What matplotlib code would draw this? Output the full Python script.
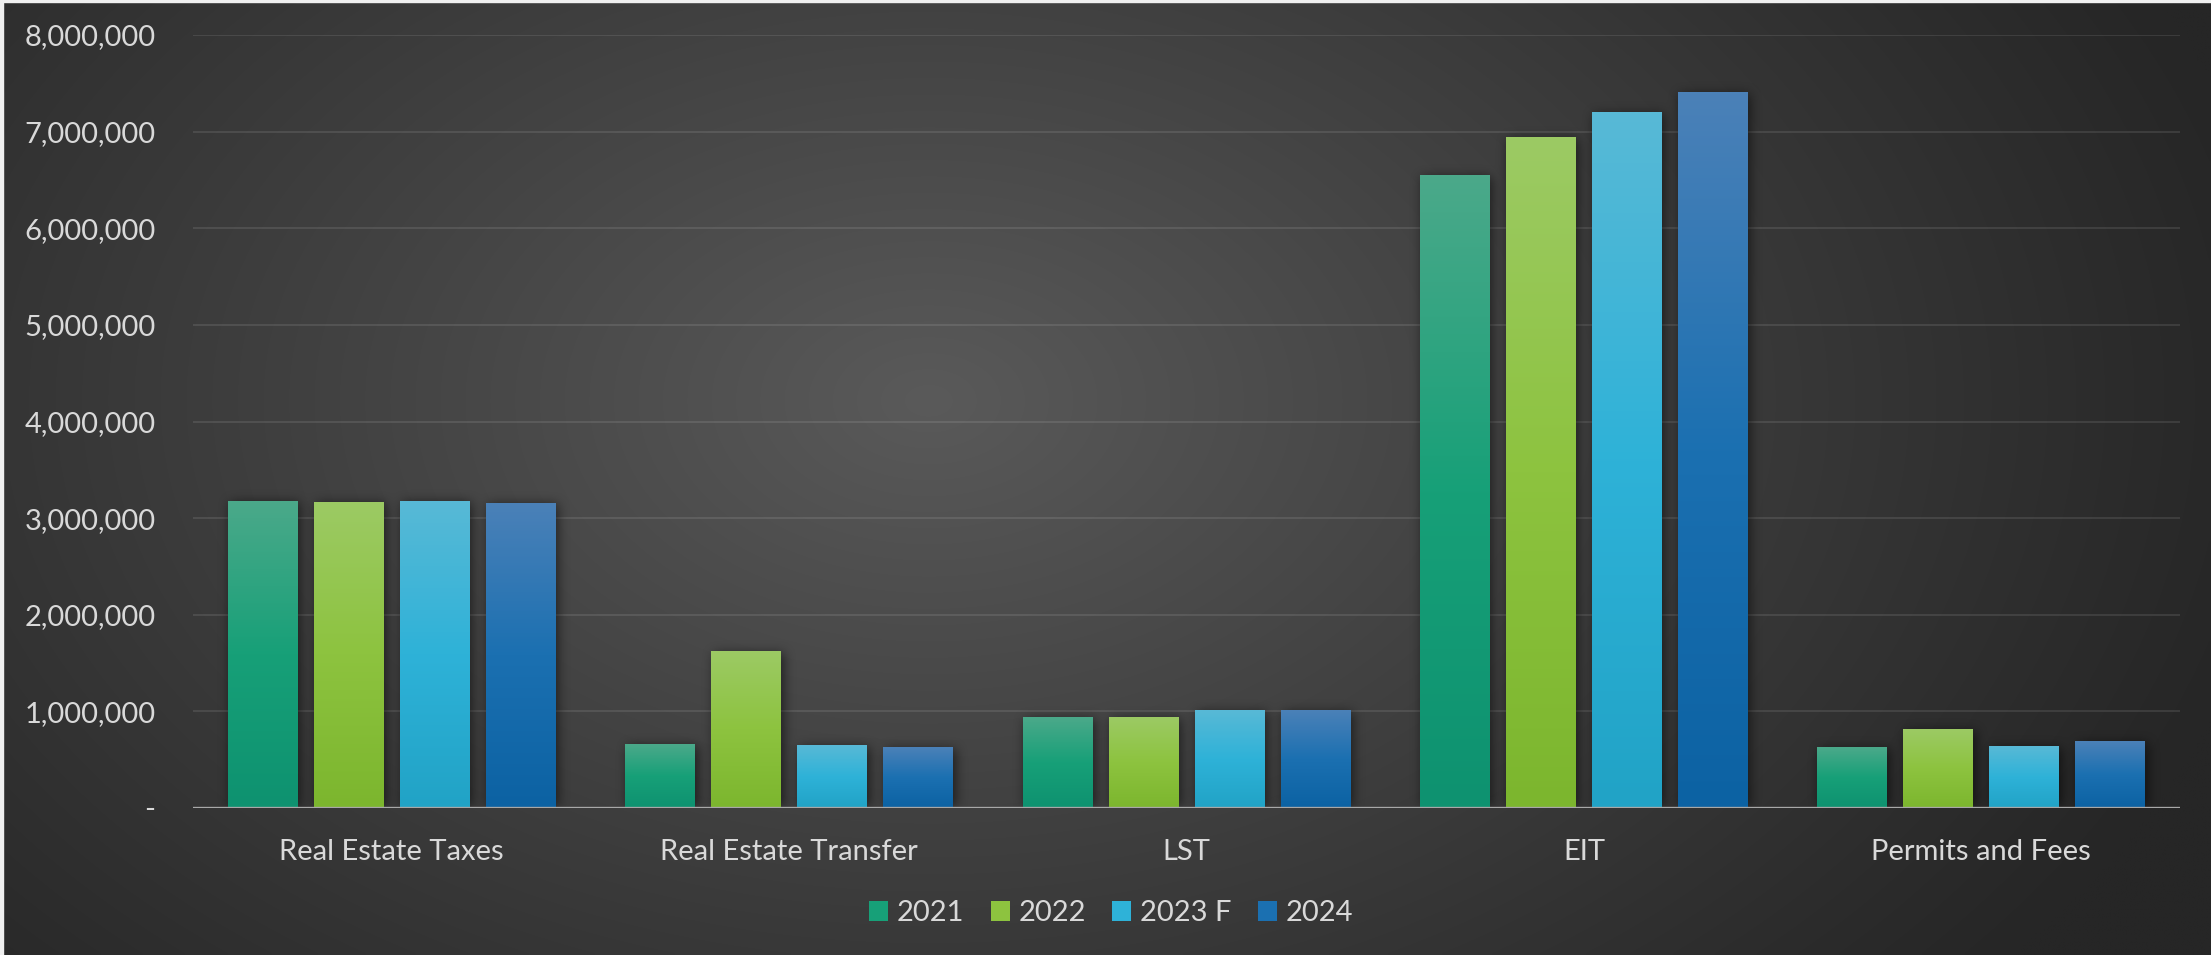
import numpy as np
import matplotlib
matplotlib.use('Agg')
import matplotlib.pyplot as plt
from matplotlib.patches import Patch, Rectangle
from matplotlib.colors import to_rgb
from matplotlib.ticker import FuncFormatter

plt.rcParams['font.family'] = ['Lato', 'DejaVu Sans']

# Revenue by source
categories = ['Real Estate Taxes', 'Real Estate Transfer', 'LST', 'EIT', 'Permits and Fees']
years = ['2021', '2022', '2023 F', '2024']
v2021 = [3180000, 660000, 940000, 6550000, 630000]
v2022 = [3170000, 1620000, 940000, 6940000, 815000]
v2023 = [3180000, 650000, 1010000, 7200000, 640000]
v2024 = [3160000, 630000, 1010000, 7410000, 690000]
series = [v2021, v2022, v2023, v2024]

# top / middle / bottom colour of each bar gradient
shades = [('#4ba98a', '#17a078', '#0e9270'),
          ('#9cca64', '#8dc33f', '#7cb62e'),
          ('#58b9d6', '#2eb2d8', '#21a3c6'),
          ('#4b81b8', '#1b70b1', '#0c62a3')]

txt = '#d9d9d9'
W, H = 2211, 955
fig = plt.figure(figsize=(W / 100, H / 100), dpi=100)

# radial dark background
bg = fig.add_axes([0, 0, 1, 1], zorder=-10)
gx, gy = np.meshgrid(np.linspace(0, 1, 560), np.linspace(0, 1, 240))
d = np.sqrt(((gx - 0.42) / 0.62) ** 2 + ((gy - 0.42) / 0.95) ** 2)
lum = (38 + 52 * np.clip(1 - d, 0, 1) ** 1.1) / 255
bg.imshow(np.dstack([lum, lum, lum]), extent=(0, 1, 0, 1), aspect='auto',
          interpolation='bilinear', origin='upper')
bg.set_axis_off()
# thin light edge on top and left
fig.patches.append(Rectangle((0, 1 - 2 / H), 1, 2 / H, transform=fig.transFigure,
                             color='#f0f0f0', zorder=5))
fig.patches.append(Rectangle((0, 0), 3 / W, 1, transform=fig.transFigure,
                             color='#f0f0f0', zorder=5))

ax = fig.add_axes([193 / W, 1 - 808 / H, (2180 - 193) / W, (808 - 35) / H])
ax.patch.set_alpha(0)

x = np.arange(len(categories))
step = 0.2164
width = 0.176
xlim = (-0.5, len(categories) - 0.5)
ylim = (0, 8000000)


def blur(a, r):
    k = np.ones(2 * r + 1) / (2 * r + 1)
    for _ in range(3):
        a = np.apply_along_axis(lambda m: np.convolve(m, k, mode='same'), 0, a)
        a = np.apply_along_axis(lambda m: np.convolve(m, k, mode='same'), 1, a)
    return a


# soft drop shadow behind the bars
sw, sh = 1987, 773
mask = np.zeros((sh, sw))
for i, vals in enumerate(series):
    for xc, v in zip(x + (i - 1.5) * step, vals):
        c0 = int((xc - width / 2 - xlim[0]) / (xlim[1] - xlim[0]) * sw) + 3
        c1 = int((xc + width / 2 - xlim[0]) / (xlim[1] - xlim[0]) * sw) + 3
        r0 = int((1 - v / ylim[1]) * sh) + 2
        mask[r0:sh, c0:c1] = 1
shadow = blur(mask, 5)
rgba = np.zeros((sh, sw, 4))
rgba[..., 3] = 0.55 * shadow
ax.imshow(rgba, extent=(*xlim, *ylim), aspect='auto', zorder=1, origin='upper')

for i, vals in enumerate(series):
    top, mid, bot = (np.array(to_rgb(c)) for c in shades[i])
    t = np.linspace(0, 1, 200)[:, None]
    grad = np.where(t < 0.5, top + (mid - top) * (t / 0.5), mid + (bot - mid) * ((t - 0.5) / 0.5))
    grad = grad[:, None, :]
    bars = ax.bar(x + (i - 1.5) * step, vals, width, color=mid, zorder=2, label=years[i])
    for b in bars:
        im = ax.imshow(grad, extent=(b.get_x(), b.get_x() + b.get_width(), 0, b.get_height()),
                       aspect='auto', zorder=3, interpolation='bilinear')
        im.set_clip_path(b)

ax.set_xlim(*xlim)
ax.set_ylim(*ylim)
ax.set_yticks(np.arange(0, 8000001, 1000000))
ax.yaxis.set_major_formatter(FuncFormatter(lambda v, p: '-' if v == 0 else f'{v:,.0f}'))
ax.set_xticks(x)
ax.set_xticklabels(categories)
ax.tick_params(axis='both', length=0, labelsize=21, colors=txt)
ax.tick_params(axis='y', pad=27)
ax.tick_params(axis='x', pad=22)
ax.grid(axis='y', color='white', alpha=0.1, lw=1.4, zorder=0)
ax.set_axisbelow(True)
for s in ax.spines.values():
    s.set_visible(False)
ax.axhline(0, color='#a8a8a8', lw=2.4, zorder=4)

handles = [Patch(facecolor=shades[i][1], label=years[i]) for i in range(4)]
leg = fig.legend(handles=handles, loc='center', bbox_to_anchor=(0.5025, 1 - 913 / H), ncol=4,
                 frameon=False, fontsize=21, handlelength=0.65, handleheight=0.7,
                 handletextpad=0.3, columnspacing=0.9, labelcolor=txt)

fig.savefig('out.png', dpi=100)
